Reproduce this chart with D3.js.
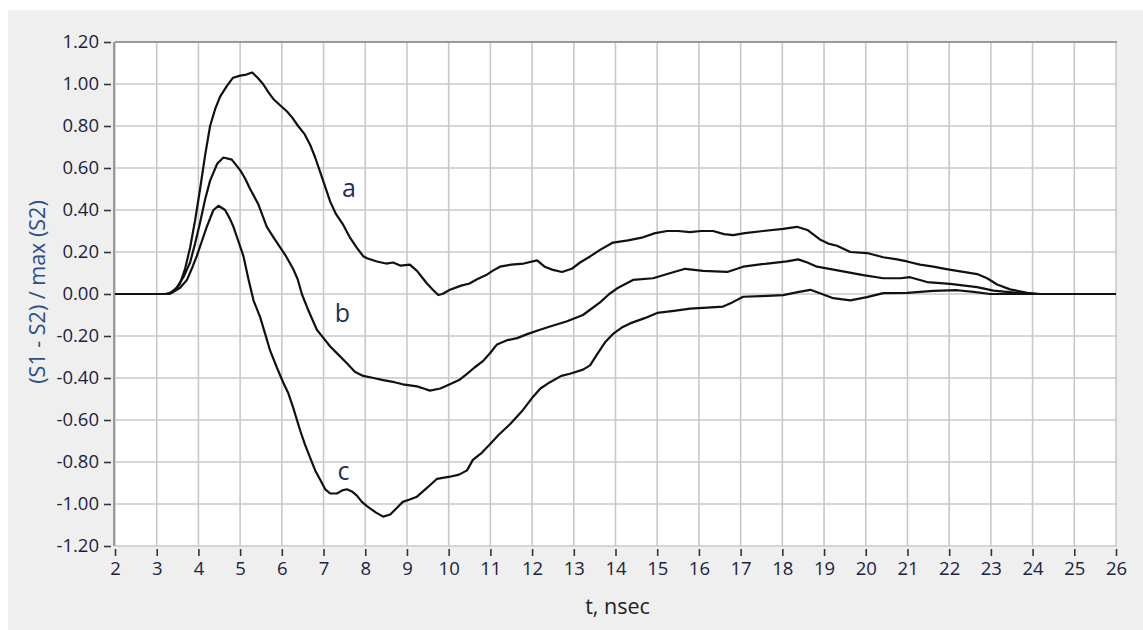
<!DOCTYPE html>
<html>
<head>
<meta charset="utf-8">
<script src="https://cdn.jsdelivr.net/npm/d3@7/dist/d3.min.js"></script>
<style>
  html, body { margin: 0; padding: 0; background: #ffffff; }
  svg { display: block; }
</style>
</head>
<body>
<svg id="chart" width="1143" height="630"></svg>
<script>
// ---- data ----
const xTicks = [2,3,4,5,6,7,8,9,10,11,12,13,14,15,16,17,18,19,20,21,22,23,24,25,26];
const yTicks = [-1.2,-1.0,-0.8,-0.6,-0.4,-0.2,0,0.2,0.4,0.6,0.8,1.0,1.2];
const xTitle = "t, nsec";
const yTitle = "(S1 - S2) / max (S2)";

const seriesA = [[2,0],[3.2,0],[3.32,0.005],[3.45,0.02],[3.56,0.05],[3.68,0.12],[3.8,0.22],[3.92,0.35],[4.04,0.50],[4.16,0.66],[4.28,0.80],[4.4,0.88],[4.52,0.94],[4.68,0.99],[4.83,1.03],[5.0,1.04],[5.15,1.045],[5.29,1.055],[5.42,1.03],[5.55,1.0],[5.68,0.96],[5.79,0.93],[5.95,0.90],[6.12,0.87],[6.25,0.84],[6.39,0.80],[6.55,0.76],[6.68,0.71],[6.8,0.65],[6.92,0.58],[7.04,0.51],[7.16,0.44],[7.3,0.38],[7.47,0.33],[7.63,0.27],[7.8,0.22],[7.95,0.18],[8.04,0.17],[8.28,0.155],[8.5,0.145],[8.67,0.15],[8.85,0.135],[9.07,0.14],[9.24,0.11],[9.36,0.08],[9.48,0.05],[9.62,0.02],[9.75,-0.005],[9.85,0.0],[10.03,0.02],[10.3,0.04],[10.5,0.05],[10.68,0.07],[10.9,0.09],[11.05,0.11],[11.23,0.13],[11.5,0.14],[11.8,0.145],[12.12,0.16],[12.3,0.13],[12.5,0.115],[12.72,0.105],[12.95,0.12],[13.15,0.15],[13.4,0.18],[13.63,0.21],[13.94,0.245],[14.3,0.255],[14.66,0.27],[14.95,0.29],[15.24,0.30],[15.5,0.30],[15.79,0.295],[16.05,0.30],[16.34,0.30],[16.6,0.285],[16.82,0.28],[17.1,0.29],[17.54,0.30],[18.02,0.31],[18.35,0.32],[18.6,0.305],[18.9,0.26],[19.1,0.24],[19.31,0.23],[19.63,0.20],[20.03,0.195],[20.42,0.175],[20.75,0.165],[20.99,0.155],[21.3,0.14],[21.62,0.13],[21.9,0.12],[22.19,0.11],[22.67,0.095],[22.91,0.075],[23.15,0.045],[23.46,0.022],[23.87,0.006],[24.18,0],[26,0]];

const seriesB = [[2,0],[3.3,0],[3.48,0.03],[3.64,0.08],[3.8,0.15],[3.92,0.24],[4.04,0.34],[4.16,0.45],[4.28,0.54],[4.45,0.62],[4.6,0.65],[4.8,0.64],[5.0,0.59],[5.12,0.55],[5.24,0.50],[5.43,0.43],[5.64,0.32],[5.8,0.27],[6.0,0.21],[6.1,0.18],[6.27,0.12],[6.38,0.07],[6.48,0.0],[6.64,-0.08],[6.84,-0.17],[7.0,-0.21],[7.16,-0.25],[7.36,-0.29],[7.56,-0.33],[7.75,-0.37],[7.95,-0.39],[8.2,-0.40],[8.43,-0.41],[8.7,-0.42],[8.9,-0.43],[9.24,-0.44],[9.4,-0.45],[9.55,-0.46],[9.8,-0.45],[10.03,-0.43],[10.25,-0.41],[10.44,-0.38],[10.62,-0.35],[10.82,-0.32],[11.0,-0.28],[11.16,-0.24],[11.4,-0.22],[11.64,-0.21],[11.9,-0.19],[12.19,-0.17],[12.43,-0.155],[12.84,-0.13],[13.22,-0.10],[13.39,-0.075],[13.63,-0.04],[13.85,0.0],[14.04,0.027],[14.42,0.067],[14.9,0.075],[15.24,0.095],[15.67,0.12],[16.1,0.11],[16.68,0.105],[17.06,0.13],[17.64,0.145],[18.11,0.155],[18.38,0.165],[18.6,0.15],[18.83,0.13],[19.39,0.11],[19.94,0.09],[20.42,0.075],[20.83,0.075],[21.06,0.08],[21.47,0.057],[22.02,0.048],[22.67,0.033],[23.06,0.016],[23.62,0.005],[24.1,0],[26,0]];

const seriesC = [[2,0],[3.3,0],[3.4,0.01],[3.56,0.03],[3.72,0.065],[3.84,0.12],[3.96,0.18],[4.08,0.25],[4.2,0.32],[4.36,0.40],[4.48,0.42],[4.64,0.40],[4.75,0.36],[4.84,0.32],[4.96,0.25],[5.08,0.18],[5.2,0.07],[5.32,-0.03],[5.48,-0.11],[5.6,-0.19],[5.72,-0.27],[5.88,-0.35],[6.03,-0.42],[6.15,-0.47],[6.27,-0.54],[6.44,-0.65],[6.56,-0.72],[6.68,-0.78],[6.8,-0.84],[6.92,-0.885],[7.04,-0.93],[7.16,-0.95],[7.32,-0.95],[7.45,-0.935],[7.56,-0.93],[7.68,-0.94],[7.8,-0.96],[7.92,-0.99],[8.04,-1.01],[8.25,-1.04],[8.43,-1.06],[8.6,-1.05],[8.75,-1.02],[8.9,-0.99],[9.05,-0.98],[9.24,-0.965],[9.5,-0.92],[9.72,-0.88],[10.03,-0.87],[10.25,-0.86],[10.44,-0.84],[10.58,-0.79],[10.8,-0.755],[10.99,-0.715],[11.2,-0.67],[11.47,-0.62],[11.75,-0.56],[12.02,-0.49],[12.2,-0.45],[12.43,-0.42],[12.7,-0.39],[12.91,-0.38],[13.22,-0.36],[13.39,-0.34],[13.55,-0.29],[13.75,-0.23],[13.94,-0.19],[14.15,-0.16],[14.35,-0.14],[14.7,-0.115],[15.0,-0.09],[15.4,-0.08],[15.79,-0.07],[16.2,-0.065],[16.58,-0.06],[16.8,-0.04],[17.06,-0.013],[17.5,-0.01],[18.02,-0.005],[18.4,0.01],[18.67,0.02],[18.95,0.0],[19.22,-0.02],[19.63,-0.03],[20.03,-0.015],[20.42,0.004],[20.99,0.005],[21.62,0.015],[22.19,0.018],[22.58,0.01],[22.99,0.0],[26,0]];

const seriesNames = ["a","b","c"];
const seriesData = [seriesA, seriesB, seriesC];
const labelAnchors = [[7.61,0.46],[7.45,-0.133],[7.48,-0.886]];

// ---- layout ----
const svg = d3.select("#chart");
const W = 1143, H = 630;
const plot = {left: 115, top: 42, right: 1117, bottom: 546};
const font = "'Open Sans', 'Noto Sans', sans-serif";

svg.append("rect").attr("x", 8).attr("y", 10).attr("width", W - 8).attr("height", H - 10).attr("fill", "#efefef");
svg.append("rect").attr("x", plot.left).attr("y", plot.top)
   .attr("width", plot.right - plot.left).attr("height", plot.bottom - plot.top).attr("fill", "#ffffff");

const x = d3.scaleLinear().domain([2, 26]).range([115, 1116]);
const y = d3.scaleLinear().domain([-1.2, 1.2]).range([plot.bottom, plot.top]);

// grid
const grid = svg.append("g");
grid.selectAll("line.v").data(xTicks).join("line")
  .attr("x1", d => x(d)).attr("x2", d => x(d)).attr("y1", plot.top).attr("y2", plot.bottom)
  .attr("stroke", "#c8c8c8").attr("stroke-width", 1.6);
grid.selectAll("line.h").data(yTicks).join("line")
  .attr("x1", plot.left).attr("x2", plot.right).attr("y1", d => y(d)).attr("y2", d => y(d))
  .attr("stroke", "#c8c8c8").attr("stroke-width", 1.6);

// border lines (top and left)
svg.append("line").attr("x1", plot.left).attr("x2", plot.right).attr("y1", plot.top).attr("y2", plot.top)
  .attr("stroke", "#9a9a9a").attr("stroke-width", 2);
svg.append("line").attr("x1", plot.left - 1).attr("x2", plot.left - 1).attr("y1", plot.top).attr("y2", plot.bottom)
  .attr("stroke", "#9a9a9a").attr("stroke-width", 2);

// y axis
const yAxis = d3.axisLeft(y).tickValues(yTicks).tickFormat(d => d.toFixed(2)).tickSize(7).tickPadding(5);
const gy = svg.append("g").attr("transform", `translate(${plot.left - 4},0)`).call(yAxis);
gy.select(".domain").remove();
gy.selectAll(".tick line").attr("stroke", "#333").attr("stroke-width", 1.6);
gy.selectAll(".tick text").attr("font-family", font).attr("font-size", 18.5).attr("fill", "#1c2340");

// x axis
const xAxis = d3.axisBottom(x).tickValues(xTicks).tickFormat(d3.format("d")).tickSize(7).tickPadding(6);
const gx = svg.append("g").attr("transform", `translate(0,${plot.bottom + 3})`).call(xAxis);
gx.select(".domain").remove();
gx.selectAll(".tick line").attr("stroke", "#333").attr("stroke-width", 1.6);
gx.selectAll(".tick text").attr("font-family", font).attr("font-size", 18.5).attr("fill", "#1c2340");

// titles
svg.append("text").attr("x", (x(2) + x(26)) / 2 + 2).attr("y", 614).attr("text-anchor", "middle")
  .attr("font-family", font).attr("font-size", 21.5).attr("fill", "#222").text(xTitle);
svg.append("text").attr("transform", `translate(45,292) rotate(-90)`).attr("text-anchor", "middle")
  .attr("font-family", font).attr("font-size", 21.5).attr("fill", "#2c4f86").text(yTitle);

// lines
const line = d3.line().x(d => x(d[0])).y(d => y(d[1])).curve(d3.curveLinear);
svg.append("g").selectAll("path").data(seriesData).join("path")
  .attr("d", line).attr("fill", "none").attr("stroke", "#111").attr("stroke-width", 2.2)
  .attr("stroke-linejoin", "round");

// curve labels
svg.append("g").selectAll("text").data(seriesNames).join("text")
  .attr("x", (d, i) => x(labelAnchors[i][0])).attr("y", (d, i) => y(labelAnchors[i][1]))
  .attr("text-anchor", "middle").attr("font-family", font).attr("font-size", 25).attr("fill", "#1f2f55")
  .text(d => d);
</script>
</body>
</html>
